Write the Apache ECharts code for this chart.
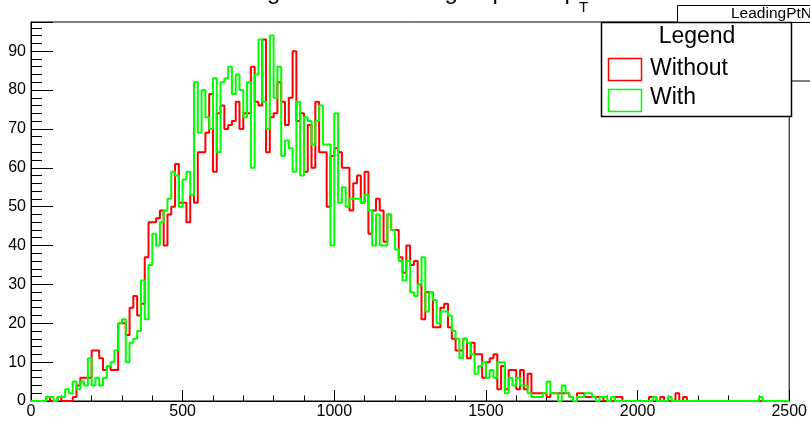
<!DOCTYPE html>
<html><head><meta charset="utf-8">
<script src="https://cdn.jsdelivr.net/npm/echarts@6/dist/echarts.min.js"></script>
<style>html,body{margin:0;padding:0;background:#fff}#c{width:810px;height:421px}</style>
</head><body><div id="c"></div>
<script>
// histogram binning (200 bins from 0 to 2500)
const binWidth = 12.5;
const xTickLabels = [0, 500, 1000, 1500, 2000, 2500];
const yTickLabels = [0, 10, 20, 30, 40, 50, 60, 70, 80, 90];
const seriesNames = ['Without', 'With'];

const withoutCounts = [
  0,0,0,0,1,0,0,1,0,0,
  0,1,4,6,6,6,13,13,11,8,
  9,8,8,20,20,17,24,27,22,25,
  37,46,46,47,49,40,48,50,61,51,
  51,46,53,51,64,64,69,79,59,74,
  76,70,71,72,77,70,74,74,86,77,
  76,93,64,73,74,82,77,71,78,90,
  72,74,59,71,60,77,64,64,50,63,
  65,64,60,60,49,56,58,51,59,43,
  49,52,49,41,48,44,44,37,33,40,
  35,36,30,21,28,28,19,19,24,25,
  19,16,13,13,16,11,15,12,12,6,
  10,11,12,3,9,3,8,8,3,8,
  3,7,2,2,2,2,1,2,2,2,
  2,2,1,0,2,2,1,1,1,1,
  1,0,0,0,1,1,0,0,0,0,
  0,0,0,1,1,0,1,0,0,0,
  2,0,1,0,0,0,0,0,0,0,
  0,0,0,0,0,0,0,0,0,0,
  0,0,0,0,0,0,0,0,0,0
];

const withCounts = [
  0,0,0,0,1,1,0,1,1,3,
  2,5,3,5,4,11,4,6,4,6,
  9,10,13,20,21,10,15,16,18,31,
  21,35,43,40,46,49,52,59,58,50,
  57,59,53,82,69,80,73,70,83,64,
  82,83,86,79,84,80,73,82,60,84,
  93,77,70,94,78,86,63,67,65,59,
  77,58,73,72,66,72,76,66,66,40,
  74,51,55,50,52,52,52,51,53,49,
  40,48,40,40,48,44,39,36,31,36,
  28,27,30,37,23,28,26,20,23,23,
  22,18,16,11,16,15,12,7,9,10,
  6,8,6,10,10,2,6,4,6,4,
  4,2,1,1,1,2,5,2,2,0,
  4,2,1,0,1,1,2,2,1,0,
  1,1,0,1,0,0,0,0,0,0,
  0,0,0,0,1,0,0,0,1,0,
  0,0,0,0,0,0,0,0,0,0,
  0,0,0,0,0,0,0,0,0,0,
  0,0,1,0,0,0,0,0,0,0
];

function toSteps(counts) {
  const pts = counts.map((c, i) => [i * binWidth, c]);
  pts.push([counts.length * binWidth, counts[counts.length - 1]]);
  return pts;
}

const FONT = '"Liberation Sans", Arial, Helvetica, sans-serif';
const chart = echarts.init(document.getElementById('c'), null, {renderer: 'canvas'});
chart.setOption({
  animation: false,
  backgroundColor: '#ffffff',
  grid: {left: 31, top: 22, width: 760, height: 379, show: true, borderColor: '#000', borderWidth: 1, backgroundColor: 'transparent'},
  xAxis: {
    type: 'value', min: xTickLabels[0], max: xTickLabels[xTickLabels.length - 1], interval: 500,
    axisLine: {show: true, onZero: false, lineStyle: {color: '#000', width: 1}},
    axisTick: {show: true, inside: true, length: 11, lineStyle: {color: '#000', width: 1}},
    minorTick: {show: true, splitNumber: 5, length: 5.5, lineStyle: {color: '#000', width: 1}},
    axisLabel: {color: '#000', fontSize: 16, fontFamily: FONT, margin: 3,
      formatter: v => xTickLabels.includes(v) ? String(v) : ''},
    splitLine: {show: false}, minorSplitLine: {show: false}
  },
  yAxis: {
    type: 'value', min: 0, max: 97.5, interval: 10,
    axisLine: {show: true, onZero: false, lineStyle: {color: '#000', width: 1}},
    axisTick: {show: true, inside: true, length: 22, lineStyle: {color: '#000', width: 1}},
    minorTick: {show: true, splitNumber: 5, length: 11, lineStyle: {color: '#000', width: 1}},
    axisLabel: {color: '#000', fontSize: 16, fontFamily: FONT, margin: 5,
      formatter: v => yTickLabels.includes(v) ? String(v) : ''},
    splitLine: {show: false}, minorSplitLine: {show: false}
  },
  series: [
    {name: seriesNames[0], type: 'line', step: 'end', data: toSteps(withoutCounts), showSymbol: false, clip: false,
     lineStyle: {color: '#ff0000', width: 2}, itemStyle: {color: '#ff0000'}, z: 2},
    {name: seriesNames[1], type: 'line', step: 'end', data: toSteps(withCounts), showSymbol: false, clip: false,
     lineStyle: {color: '#00ff00', width: 2}, itemStyle: {color: '#00ff00'}, z: 3}
  ],
  graphic: [
    {type: 'text', x: 195, y: -8, z: 10, style: {text: 'Leading electron in the group max p', font: '24px ' + FONT, fill: '#000', verticalAlign: 'middle'}},
    {type: 'text', x: 579, y: 8, z: 10, style: {text: 'T', font: '15px ' + FONT, fill: '#000', verticalAlign: 'middle'}},
    {type: 'rect', z: 10, shape: {x: 677.5, y: 5.5, width: 150, height: 75.5}, style: {fill: '#fff', stroke: '#000', lineWidth: 1}},
    {type: 'line', z: 10, shape: {x1: 677.5, y1: 22.5, x2: 810, y2: 22.5}, style: {stroke: '#000', lineWidth: 1}},
    {type: 'text', x: 731, y: 14, z: 10, style: {text: 'LeadingPtNoCut', font: '15.5px ' + FONT, fill: '#000', verticalAlign: 'middle'}},
    {type: 'rect', z: 11, shape: {x: 601.5, y: 22.5, width: 190, height: 94}, style: {fill: '#fff', stroke: '#000', lineWidth: 1.5}},
    {type: 'text', x: 697, y: 37, z: 12, style: {text: 'Legend', font: '23px ' + FONT, fill: '#000', align: 'center', verticalAlign: 'middle'}},
    {type: 'rect', z: 12, shape: {x: 608.5, y: 58.5, width: 33, height: 22}, style: {fill: 'none', stroke: '#ff0000', lineWidth: 1.5}},
    {type: 'rect', z: 12, shape: {x: 608.5, y: 89.5, width: 33, height: 22}, style: {fill: 'none', stroke: '#00ff00', lineWidth: 1.5}},
    {type: 'text', x: 650, y: 68.7, z: 12, style: {text: seriesNames[0], font: '23px ' + FONT, fill: '#000', verticalAlign: 'middle'}},
    {type: 'text', x: 650, y: 98, z: 12, style: {text: seriesNames[1], font: '23px ' + FONT, fill: '#000', verticalAlign: 'middle'}}
  ]
});
</script>
</body></html>
